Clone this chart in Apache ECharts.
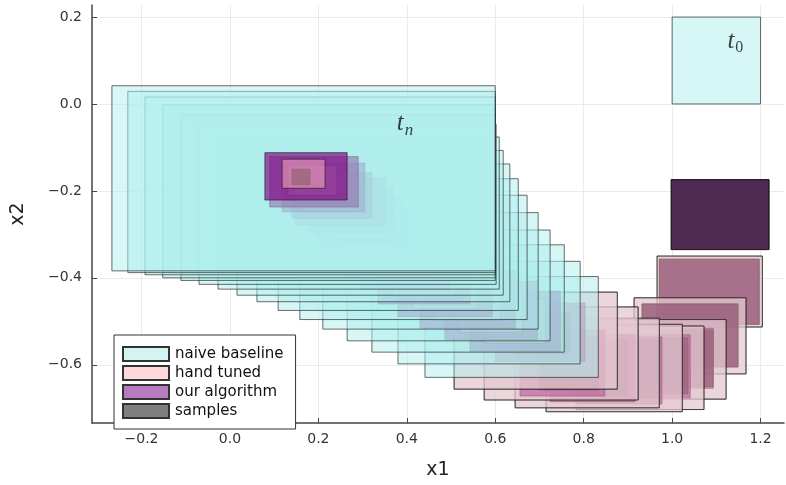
<!DOCTYPE html>
<html>
<head>
<meta charset="utf-8">
<script src="https://cdn.jsdelivr.net/npm/echarts@6/dist/echarts.min.js"></script>
<style>
html, body { margin: 0; padding: 0; background: #fff; }
#chart { width: 786px; height: 485px; }
</style>
</head>
<body>
<div id="chart"></div>
<script>
// each box: [x1 min, x1 max, x2 min, x2 max], one box per time step
// naive starts at t0, ours/samples at t1, hand tuned at t2
var naiveBoxes = [
  [1.000, 1.200, 0.000, 0.200],
  [0.998, 1.219, -0.335, -0.174],
  [0.966, 1.204, -0.513, -0.350],
  [0.914, 1.167, -0.621, -0.446],
  [0.851, 1.122, -0.679, -0.496],
  [0.783, 1.072, -0.703, -0.511],
  [0.715, 1.023, -0.708, -0.507],
  [0.645, 0.971, -0.699, -0.493],
  [0.575, 0.923, -0.681, -0.467],
  [0.507, 0.876, -0.656, -0.433],
  [0.441, 0.833, -0.629, -0.397],
  [0.380, 0.792, -0.598, -0.362],
  [0.321, 0.756, -0.571, -0.324],
  [0.265, 0.724, -0.545, -0.290],
  [0.210, 0.697, -0.518, -0.250],
  [0.158, 0.672, -0.496, -0.210],
  [0.109, 0.652, -0.475, -0.172],
  [0.061, 0.633, -0.455, -0.138],
  [0.016, 0.618, -0.440, -0.107],
  [-0.027, 0.609, -0.426, -0.076],
  [-0.070, 0.602, -0.415, -0.047],
  [-0.111, 0.600, -0.406, -0.025],
  [-0.152, 0.600, -0.400, -0.002],
  [-0.192, 0.600, -0.393, 0.016],
  [-0.231, 0.600, -0.388, 0.029],
  [-0.267, 0.600, -0.384, 0.042]
]
var handBoxes = [
  [0.966, 1.204, -0.513, -0.350],
  [0.914, 1.167, -0.621, -0.446],
  [0.851, 1.122, -0.679, -0.496],
  [0.783, 1.072, -0.703, -0.511],
  [0.715, 1.023, -0.708, -0.507],
  [0.645, 0.971, -0.699, -0.493],
  [0.575, 0.923, -0.681, -0.467],
  [0.507, 0.876, -0.656, -0.433],
  [0.577, 0.713, -0.551, -0.449],
  [0.520, 0.661, -0.525, -0.426],
  [0.464, 0.611, -0.498, -0.400],
  [0.414, 0.559, -0.471, -0.373],
  [0.369, 0.509, -0.442, -0.344],
  [0.328, 0.464, -0.408, -0.315],
  [0.294, 0.428, -0.379, -0.292],
  [0.271, 0.405, -0.359, -0.272],
  [0.247, 0.380, -0.333, -0.254],
  [0.226, 0.357, -0.308, -0.232],
  [0.204, 0.335, -0.279, -0.208],
  [0.179, 0.312, -0.261, -0.188],
  [0.165, 0.290, -0.246, -0.176],
  [0.147, 0.269, -0.225, -0.156],
  [0.131, 0.242, -0.210, -0.141],
  [0.118, 0.215, -0.194, -0.127]
]
var oursBoxes = [
  [0.998, 1.219, -0.335, -0.174],
  [0.971, 1.197, -0.507, -0.357],
  [0.932, 1.149, -0.605, -0.460],
  [0.894, 1.093, -0.654, -0.516],
  [0.837, 1.041, -0.676, -0.531],
  [0.785, 0.977, -0.690, -0.536],
  [0.724, 0.916, -0.685, -0.531],
  [0.656, 0.848, -0.672, -0.520],
  [0.600, 0.803, -0.592, -0.458],
  [0.543, 0.747, -0.569, -0.431],
  [0.486, 0.695, -0.542, -0.408],
  [0.430, 0.645, -0.516, -0.382],
  [0.380, 0.593, -0.489, -0.355],
  [0.335, 0.543, -0.460, -0.326],
  [0.294, 0.498, -0.426, -0.297],
  [0.260, 0.462, -0.397, -0.275],
  [0.238, 0.439, -0.375, -0.257],
  [0.215, 0.412, -0.348, -0.237],
  [0.195, 0.389, -0.324, -0.214],
  [0.176, 0.369, -0.297, -0.190],
  [0.147, 0.351, -0.279, -0.170],
  [0.140, 0.321, -0.263, -0.158],
  [0.118, 0.305, -0.248, -0.136],
  [0.090, 0.290, -0.237, -0.121],
  [0.079, 0.265, -0.221, -0.112]
]
var sampleBoxes = [
  [0.998, 1.219, -0.335, -0.174],
  [0.971, 1.197, -0.507, -0.357],
  [0.932, 1.149, -0.605, -0.460],
  [0.962, 1.093, -0.650, -0.520],
  [0.905, 1.036, -0.667, -0.538],
  [0.837, 0.968, -0.676, -0.542],
  [0.769, 0.900, -0.672, -0.542],
  [0.701, 0.833, -0.658, -0.536],
  [0.645, 0.769, -0.574, -0.480],
  [0.581, 0.708, -0.545, -0.455],
  [0.534, 0.647, -0.516, -0.435],
  [0.484, 0.588, -0.487, -0.413],
  [0.439, 0.534, -0.455, -0.388],
  [0.396, 0.482, -0.424, -0.362],
  [0.357, 0.434, -0.391, -0.333],
  [0.326, 0.396, -0.362, -0.308],
  [0.305, 0.371, -0.339, -0.290],
  [0.283, 0.344, -0.317, -0.270],
  [0.262, 0.319, -0.292, -0.248],
  [0.235, 0.287, -0.259, -0.217],
  [0.219, 0.269, -0.239, -0.199],
  [0.204, 0.251, -0.223, -0.185],
  [0.181, 0.226, -0.205, -0.167],
  [0.161, 0.204, -0.190, -0.154],
  [0.140, 0.181, -0.186, -0.150]
]

var xTicks = [-0.2, 0.0, 0.2, 0.4, 0.6, 0.8, 1.0, 1.2]
var yTicks = [-0.6, -0.4, -0.2, 0.0, 0.2]
// [x1, x2, text]
var stepLabels = [
  [1.143, 0.145, '{t|t}{s|0}'],
  [0.396, -0.045, '{t|t}{n|n}']
]

var names = ['naive baseline', 'hand tuned', 'our algorithm', 'samples']
var legendColors = ['#d4f4f4', '#ffd8dc', '#b77bbf', '#7f7f7f']
var fills = ['rgba(175,238,238,0.5)', 'rgba(255,182,193,0.5)', 'rgba(128,0,128,0.65)', 'rgba(0,0,0,0.5)']
// drawing order inside one time step: naive, ours, samples, hand
var drawOrder = [0, 3, 1, 2]

function fmt (v) {
  return (v < 0 ? '\u2212' : '') + Math.abs(v).toFixed(1)
}

function toData (boxes, firstStep) {
  return boxes.map(function (b, i) {
    return [b[0], b[1], b[2], b[3], i + firstStep]
  })
}

function boxSeries (idx, boxes, firstStep) {
  return {
    name: names[idx],
    type: 'custom',
    itemStyle: { color: legendColors[idx], borderColor: '#333', borderWidth: 1 },
    encode: { x: [0, 1], y: [2, 3] },
    data: toData(boxes, firstStep),
    renderItem: function (params, api) {
      var p0 = api.coord([api.value(0), api.value(3)])
      var p1 = api.coord([api.value(1), api.value(2)])
      return {
        type: 'rect',
        z2: api.value(4) * 10 + drawOrder[idx],
        shape: { x: p0[0], y: p0[1], width: p1[0] - p0[0], height: p1[1] - p0[1] },
        style: { fill: fills[idx], stroke: 'rgba(30,30,30,0.65)', lineWidth: 1 }
      }
    }
  }
}

var chart = echarts.init(document.getElementById('chart'))
var option = {
  animation: false,
  backgroundColor: '#fff',
  grid: { left: 92, right: 2, top: 5, bottom: 49 },
  legend: {
    data: names,
    orient: 'vertical',
    left: 114,
    top: 335,
    padding: [11, 12, 10, 8],
    itemWidth: 46,
    itemHeight: 14,
    itemGap: 3,
    backgroundColor: '#fff',
    borderColor: '#333',
    borderWidth: 1,
    borderRadius: 0,
    selectedMode: false,
    icon: 'rect',
    textStyle: { fontFamily: 'DejaVu Sans', fontSize: 15, color: '#111', padding: [0, 0, 0, 1] }
  },
  xAxis: {
    type: 'value',
    min: -0.312,
    max: 1.253,
    name: 'x1',
    nameLocation: 'middle',
    nameGap: 38,
    nameTextStyle: { fontFamily: 'DejaVu Sans', fontSize: 19, color: '#222' },
    axisLine: { show: true, onZero: false, lineStyle: { color: '#444', width: 1.5 } },
    axisTick: { show: true, inside: true, length: 5, customValues: xTicks, lineStyle: { color: '#444' } },
    axisLabel: { customValues: xTicks, formatter: fmt, margin: 9, fontFamily: 'DejaVu Sans', fontSize: 14, color: '#333' },
    splitLine: { show: true, lineStyle: { color: '#ebebeb', width: 1 } }
  },
  yAxis: {
    type: 'value',
    min: -0.734,
    max: 0.2277,
    name: 'x2',
    nameLocation: 'middle',
    nameGap: 64,
    nameTextStyle: { fontFamily: 'DejaVu Sans', fontSize: 19, color: '#222' },
    axisLine: { show: true, onZero: false, lineStyle: { color: '#444', width: 1.5 } },
    axisTick: { show: true, inside: true, length: 5, customValues: yTicks, lineStyle: { color: '#444' } },
    axisLabel: { customValues: yTicks, formatter: fmt, margin: 10, fontFamily: 'DejaVu Sans', fontSize: 14, color: '#333' },
    splitLine: { show: true, lineStyle: { color: '#ebebeb', width: 1 } }
  },
  series: [
    boxSeries(0, naiveBoxes, 0),
    boxSeries(1, handBoxes, 2),
    boxSeries(2, oursBoxes, 1),
    boxSeries(3, sampleBoxes, 1),
    {
      type: 'scatter',
      symbolSize: 0,
      z: 5,
      data: stepLabels.map(function (d) { return { value: [d[0], d[1]], label: { formatter: d[2] } } }),
      label: {
        show: true,
        position: 'inside',
        rich: {
          t: { fontFamily: 'Liberation Serif', fontStyle: 'italic', fontSize: 25, color: '#111' },
          s: { fontFamily: 'Liberation Serif', fontSize: 16, color: '#111', padding: [14, 0, 0, 1] },
          n: { fontFamily: 'Liberation Serif', fontStyle: 'italic', fontSize: 17, color: '#111', padding: [14, 0, 0, 1] }
        }
      }
    }
  ]
}
chart.setOption(option)
</script>
</body>
</html>
